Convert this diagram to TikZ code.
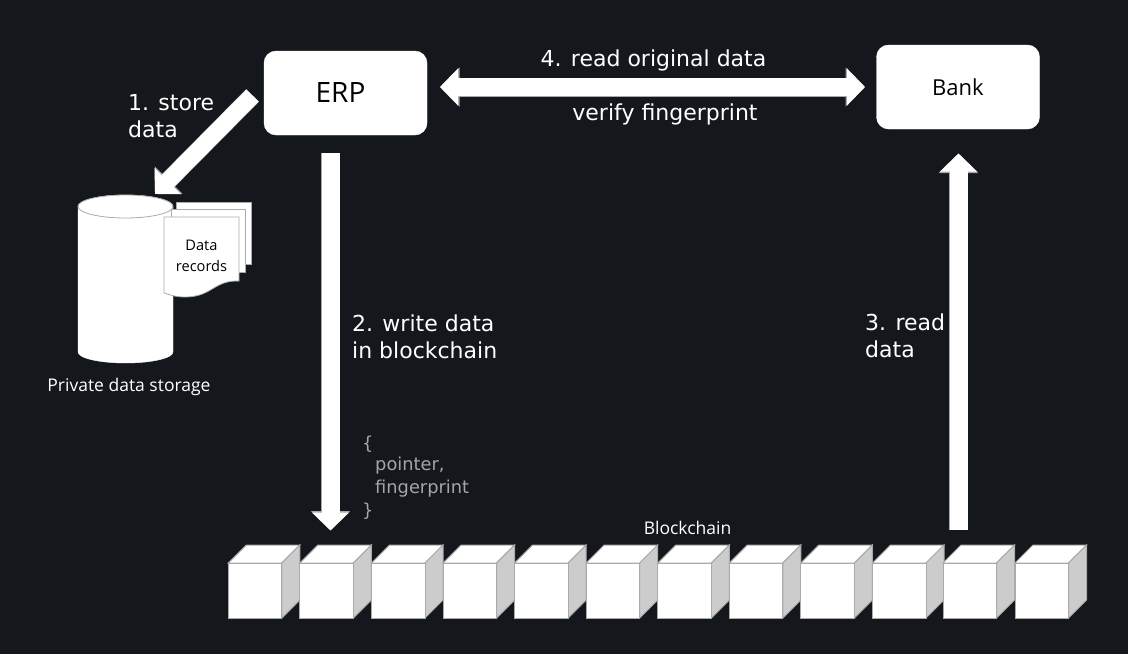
\documentclass[tikz,border=0pt]{standalone}
\usepackage{fontspec}
\setmainfont{Open Sans}
\newfontfamily\labelfont{DejaVu Sans}
\usetikzlibrary{arrows.meta}
\definecolor{bgc}{RGB}{20,23,28}
\definecolor{edgec}{RGB}{170,170,170}
\definecolor{sidec}{RGB}{204,204,204}
\definecolor{codec}{RGB}{165,165,165}
\tikzset{
  x=1pt,y=-1pt,
  box/.style={draw=white,fill=white,rounded corners=12pt,minimum width=163pt,minimum height=84pt,inner sep=0pt,text=black},
  flow/.style={font=\labelfont\fontsize{22}{27}\selectfont,text=white,align=left,inner sep=0pt},
  captext/.style={font=\fontsize{17.5}{21}\selectfont,text=white,inner sep=0pt},
  codeline/.style={font=\labelfont\fontsize{17.8}{21}\selectfont,text=codec,inner sep=0pt,anchor=west},
  blockarrow/.style={draw=white,line width=18pt,-{Triangle[length=18pt,width=36pt]}},
  blockedge/.style={draw=edgec,line width=19pt,-{Triangle[length=19.5pt,width=38pt]}},
  dblarrow/.style={draw=white,line width=18pt,{Triangle[length=18pt,width=36pt]}-{Triangle[length=18pt,width=36pt]}},
  dbledge/.style={draw=edgec,line width=19pt,{Triangle[length=19.5pt,width=38pt]}-{Triangle[length=19.5pt,width=38pt]}},
  slantarrow/.style={draw=white,line width=17pt,-{Triangle[length=18pt,width=36pt]}},
  slantedge/.style={draw=edgec,line width=18pt,-{Triangle[length=19.5pt,width=38pt]}},
  cubeline/.style={draw=edgec,line width=1pt,line join=miter},
  pageline/.style={draw=edgec,fill=white,line width=.8pt},
}
\newcommand{\cube}[1]{%
  \path[cubeline,fill=white] (#1,563) -- (#1+18,545) -- (#1+71.5,545) -- (#1+53.5,563) -- cycle;
  \path[cubeline,fill=sidec] (#1+53.5,563) -- (#1+71.5,545) -- (#1+71.5,600) -- (#1+53.5,618) -- cycle;
  \path[cubeline,fill=white] (#1,563) rectangle (#1+53.5,618);
}
\begin{document}
\begin{tikzpicture}
\useasboundingbox[fill=bgc] (0,0) rectangle (1128,654);

\node[box,font=\fontsize{28}{30}\selectfont] (erp) at (345.5,93) {\hspace*{-10pt}ERP};
\node[box,font=\fontsize{22}{25}\selectfont] (bank) at (958,87) {Bank};

% private data storage
\path[draw=white,fill=white] (78,206.5) -- (78,352) arc[start angle=180,end angle=0,x radius=47.5,y radius=11] -- (173,206.5) arc[start angle=0,end angle=-180,x radius=47.5,y radius=11.5] -- cycle;
\path[draw=edgec,line width=.8pt,fill=white] (125.5,206.5) ellipse[x radius=47.5,y radius=11.5];
\coordinate (dbtop) at (155,194);
\node[captext] (storage) at (129,387) {Private data storage};

\path[pageline] (176,202) -- (251.5,202) -- (251.5,264) -- (176,264) -- cycle;
\path[pageline] (171,209) -- (245,209) -- (245,272.5) -- (171,272.5) -- cycle;
\path[pageline] (164,217) -- (239,217) -- (239,281) .. controls (214,280) and (212,297) .. (185,297) .. controls (176,297) and (170,295) .. (164,293) -- cycle;
\node[font=\fontsize{14.6}{21}\selectfont,text=black,align=center,inner sep=0pt] (records) at (201.5,255.5) {Data\\records};

% blockchain
\foreach \cx in {228.3,299.9,371.5,443.1,514.6,586.2,657.8,729.4,800.9,872.5,943,1015}{\cube{\cx}}
\node[captext] (chain) at (687.5,527.5) {Blockchain};

% connector ends
\coordinate (a1s) at (252.5,95.5);
\coordinate (a2s) at (330.5,153);
\coordinate (a2e) at (330.5,530.5);
\coordinate (a3s) at (958.5,530);
\coordinate (a3e) at (958.5,153.5);
\coordinate (a4s) at (440,87);
\coordinate (a4e) at (865,87);

\draw[slantedge] (a1s) -- (dbtop);
\draw[slantarrow] (a1s) -- (dbtop);
\draw[blockedge] (a2s) -- (a2e);
\draw[blockarrow] (a2s) -- (a2e);
\draw[blockedge] (a3s) -- (a3e);
\draw[blockarrow] (a3s) -- (a3e);
\draw[dbledge] (a4s) -- (a4e);
\draw[dblarrow] (a4s) -- (a4e);

% labels
\node[flow,anchor=west] (l1) at (128,116.5) {1. store\\data};
\node[flow,anchor=west] (l2) at (352,336.5) {2. write data\\in blockchain};
\node[flow,anchor=west] (l3) at (865,335.5) {3. read\\data};
\node[flow,anchor=center] (l4) at (653.5,60) {4. read original data};
\node[flow,anchor=center] (l4b) at (665,114.5) {verify fingerprint};

\node[codeline] (c1) at (362,444) {\{};
\node[codeline] (c2) at (375,466) {pointer,};
\node[codeline] (c3) at (375,489) {fingerprint};
\node[codeline] (c4) at (362,511) {\}};
\end{tikzpicture}
\end{document}
